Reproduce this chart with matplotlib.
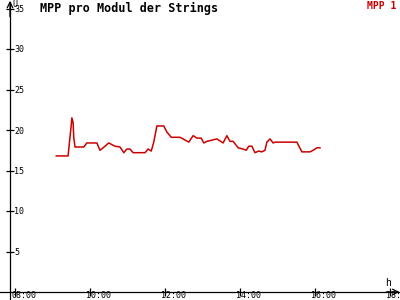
import matplotlib
matplotlib.use('Agg')
import matplotlib.pyplot as plt
import matplotlib.transforms as mtrans
import numpy as np

# readings of MPP 1 (time of day, value)
times = ['09:06', '09:25', '09:26', '09:30', '09:31', '09:33', '09:34', '09:36', '09:50', '09:55',
         '10:11', '10:16', '10:21', '10:30', '10:40', '10:48', '10:54', '10:59', '11:04', '11:09',
         '11:14', '11:28', '11:33', '11:38', '11:42', '11:47', '11:58', '12:03', '12:10', '12:24',
         '12:29', '12:38', '12:45', '12:51', '12:58', '13:02', '13:07', '13:23', '13:33', '13:39',
         '13:44', '13:49', '13:54', '13:57', '14:05', '14:10', '14:14', '14:19', '14:24', '14:30',
         '14:35', '14:40', '14:43', '14:48', '14:53', '14:56', '15:31', '15:39', '15:41', '15:52',
         '15:57', '16:03', '16:08']
values = [16.8, 16.8, 17.65, 20.6, 21.5, 20.9, 19.1, 17.9, 17.9, 18.4,
          18.4, 17.5, 17.8, 18.4, 18.0, 17.9, 17.2, 17.65, 17.65, 17.2,
          17.2, 17.2, 17.65, 17.4, 18.5, 20.5, 20.5, 19.75, 19.1, 19.1,
          18.9, 18.5, 19.3, 19.0, 19.0, 18.4, 18.6, 18.9, 18.4, 19.3,
          18.6, 18.6, 18.1, 17.8, 17.65, 17.5, 18.0, 18.0, 17.2, 17.4,
          17.3, 17.5, 18.5, 18.9, 18.4, 18.5, 18.5, 17.3, 17.3, 17.3,
          17.5, 17.8, 17.8]

x_ticks = [8, 10, 12, 14, 16, 18]
x_labels = ['08:00', '10:00', '12:00', '14:00', '16:00', '18:00']
y_ticks = [5, 10, 15, 20, 25, 30, 35]


def to_hours(s):
    h, m = s.split(':')
    return int(h) + int(m) / 60.0


def main():
    plt.rcParams['font.family'] = 'DejaVu Sans Mono'
    fig = plt.figure(figsize=(4, 3), dpi=100)
    ax = fig.add_axes([0, 0, 1, 1])

    x = np.array([to_hours(t) for t in times])
    ax.plot(x, values, color='#cc0000', linewidth=1.1)

    x0 = 7.6 + 10 / 37.5
    ax.set_xlim(7.6, 8 + 385 / 37.5)
    ax.set_ylim(-8 / 8.1, 292 / 8.1)

    for s in ['top', 'right']:
        ax.spines[s].set_visible(False)
    ax.spines['bottom'].set_position(('data', 0))
    ax.spines['left'].set_position(('data', x0))
    ax.spines['left'].set_bounds(-1, 35.8)
    ax.spines['bottom'].set_bounds(7.6, 18.24)
    for s in ['bottom', 'left']:
        ax.spines[s].set_linewidth(0.9)

    ax.set_xticks(x_ticks)
    ax.set_xticklabels(x_labels, fontsize=6)
    ax.set_yticks(y_ticks)
    ax.set_yticklabels([str(v) for v in y_ticks], fontsize=6)
    ax.tick_params(axis='both', direction='inout', length=6, width=0.9)
    ax.tick_params(axis='y', pad=-6)
    ax.tick_params(axis='x', pad=-3.5)
    for lab in ax.get_yticklabels():
        lab.set_horizontalalignment('left')
    off = mtrans.ScaledTranslation(-4 / 100, 0, fig.dpi_scale_trans)
    for lab in ax.get_xticklabels():
        lab.set_horizontalalignment('left')
        lab.set_transform(lab.get_transform() + off)

    # arrow heads
    ax.annotate('', xy=(x0, 292 / 8.1 - 0.1), xytext=(x0, 34), annotation_clip=False,
                arrowprops=dict(arrowstyle='->', lw=0.9, color='black', shrinkA=0, shrinkB=0))
    ax.annotate('', xy=(8 + 384.5 / 37.5, 0), xytext=(17.9, 0), annotation_clip=False,
                arrowprops=dict(arrowstyle='->', lw=0.9, color='black', shrinkA=0, shrinkB=0))

    fig.text(12 / 400, 1, 'U', fontsize=6, va='top', ha='left')
    fig.text(385 / 400, 1 - 278 / 300, 'h', fontsize=7, va='top', ha='left')
    fig.text(40 / 400, 1 - 2 / 300, 'MPP pro Modul der Strings', fontsize=8.5,
             fontweight='bold', va='top', ha='left')
    fig.text(396 / 400, 1 - 1 / 300, 'MPP 1', fontsize=7, color='#cc0000',
             fontweight='bold', va='top', ha='right')

    fig.savefig('out.png', dpi=100)


if __name__ == '__main__':
    main()
